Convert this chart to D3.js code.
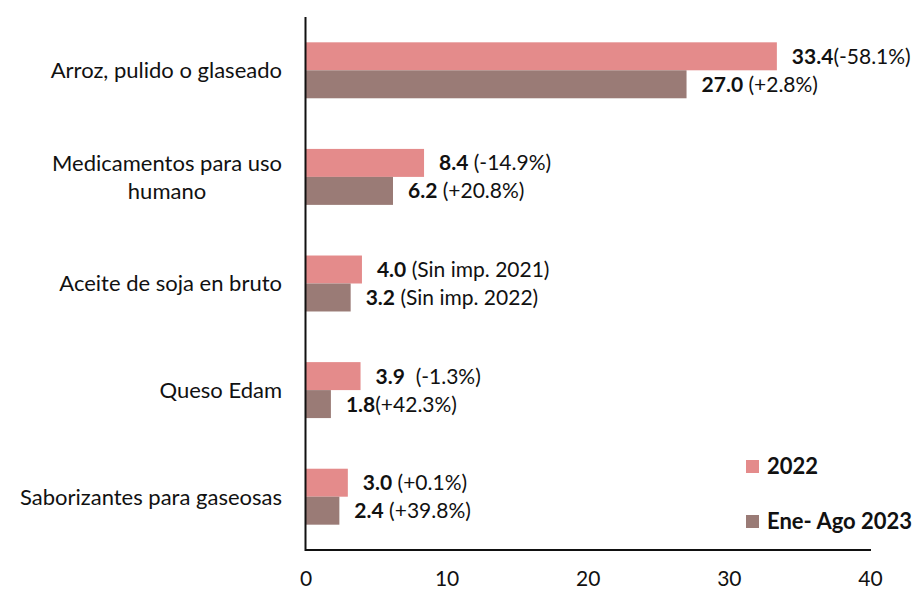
<!DOCTYPE html>
<html>
<head>
<meta charset="utf-8">
<script src="https://cdn.jsdelivr.net/npm/d3@7"></script>
<style>
  body { margin: 0; background: #fff; }
  text { font-family: Lato, "Open Sans", sans-serif; fill: #111; }
  .cat { font-size: 22px; }
  .tick text { font-size: 21px; }
  .val { font-size: 21px; }
  .leg { font-size: 22px; font-weight: bold; }
</style>
</head>
<body>
<svg width="920" height="591"></svg>
<script>
const categories = ['Arroz, pulido o glaseado', 'Medicamentos para uso|humano', 'Aceite de soja en bruto', 'Queso Edam', 'Saborizantes para gaseosas'];
const seriesNames = ['2022', 'Ene- Ago 2023'];
const values2022 = [33.4, 8.4, 4.0, 3.9, 3.0];
const values2023 = [27.0, 6.2, 3.2, 1.8, 2.4];
const notes2022 = ['(-58.1%)', ' (-14.9%)', ' (Sin imp. 2021)', '  (-1.3%)', ' (+0.1%)'];
const notes2023 = [' (+2.8%)', ' (+20.8%)', ' (Sin imp. 2022)', '(+42.3%)', ' (+39.8%)'];
const xTicks = [0, 10, 20, 30, 40];
const colors = ['#e48b8b', '#9a7b76'];

const svg = d3.select('svg');
const plotLeft = 305.5, plotRight = 870, plotTop = 17, plotBottom = 550;

const x = d3.scaleLinear().domain([0, 40]).range([plotLeft, plotRight]);
const y = d3.scaleBand().domain(categories).range([plotTop, plotBottom])
  .paddingInner(0.475).paddingOuter(0.2375);
const ySub = d3.scaleBand().domain(seriesNames).range([0, y.bandwidth()]);

const rows = categories.map((c, i) => ({
  cat: c,
  items: [
    { s: seriesNames[0], v: values2022[i], note: notes2022[i] },
    { s: seriesNames[1], v: values2023[i], note: notes2023[i] }
  ]
}));

const groups = svg.selectAll('g.grp').data(rows).enter().append('g')
  .attr('class', 'grp')
  .attr('transform', d => `translate(0,${y(d.cat)})`);

groups.selectAll('rect').data(d => d.items).enter().append('rect')
  .attr('x', x(0))
  .attr('y', d => ySub(d.s))
  .attr('width', d => x(d.v) - x(0))
  .attr('height', ySub.bandwidth())
  .attr('fill', (d, i) => colors[i]);

const lbl = groups.selectAll('text.val').data(d => d.items).enter().append('text')
  .attr('class', 'val')
  .attr('x', d => x(d.v) + 15)
  .attr('y', d => ySub(d.s) + ySub.bandwidth() / 2)
  .attr('dy', '0.36em')
  .attr('xml:space', 'preserve')
  .style('white-space', 'pre');
lbl.append('tspan').attr('font-weight', 'bold').text(d => d.v.toFixed(1));
lbl.append('tspan').text(d => d.note);

// category labels (multi-line ones centered as a block, right aligned)
const labelRight = 282;
categories.forEach(c => {
  const lines = c.split('|');
  const t = svg.append('text').attr('class', 'cat');
  const cy = y(c) + y.bandwidth() / 2;
  if (lines.length === 1) {
    t.attr('x', labelRight).attr('y', cy).attr('dy', '0.36em')
      .attr('text-anchor', 'end').text(c);
  } else {
    const lh = 28;
    lines.forEach((l, k) => {
      t.append('tspan').attr('y', cy + (k - (lines.length - 1) / 2) * lh)
        .attr('dy', '0.36em').text(l);
    });
    const w = d3.max(t.selectAll('tspan').nodes(), n => n.getComputedTextLength());
    t.attr('text-anchor', 'middle');
    t.selectAll('tspan').attr('x', labelRight - w / 2);
  }
});

// axes
const xAxis = svg.append('g').attr('transform', `translate(0,${plotBottom})`)
  .call(d3.axisBottom(x).tickValues(xTicks).tickSize(0).tickPadding(21));
xAxis.select('.domain').remove();
xAxis.selectAll('.tick text').attr('fill', '#111');
svg.append('line').attr('x1', plotLeft).attr('x2', 871).attr('y1', plotBottom).attr('y2', plotBottom)
  .attr('stroke', '#111').attr('stroke-width', 2);
svg.append('line').attr('x1', plotLeft).attr('x2', plotLeft).attr('y1', plotTop).attr('y2', plotBottom + 1)
  .attr('stroke', '#111').attr('stroke-width', 2);

// legend
const leg = svg.selectAll('g.leg').data(seriesNames).enter().append('g')
  .attr('transform', (d, i) => `translate(746,${460 + i * 55})`);
leg.append('rect').attr('width', 13).attr('height', 13).attr('fill', (d, i) => colors[i]);
leg.append('text').attr('class', 'leg').attr('x', 21).attr('y', 6.5).attr('dy', '0.36em').text(d => d);
</script>
</body>
</html>
